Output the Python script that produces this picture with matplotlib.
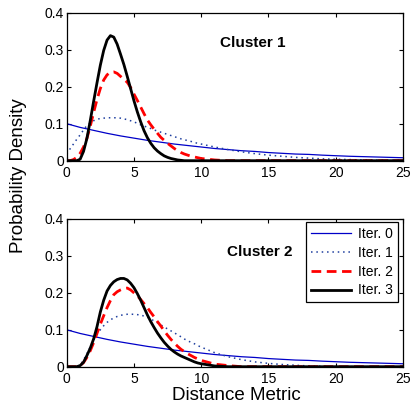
import matplotlib
matplotlib.use("Agg")
import matplotlib.pyplot as plt

plt.rcParams['font.family'] = ['Liberation Sans', 'DejaVu Sans']

# ---- data ----
# sample positions: every 0.25 from 0 to 10, then every 1 from 11 to 25
x_fine = [i / 4 for i in range(41)] + list(range(11, 26))

x_int = list(range(0, 26))
iter0 = [0.100, 0.090, 0.082, 0.074, 0.067, 0.061, 0.055, 0.050, 0.045, 0.041,
         0.037, 0.033, 0.030, 0.027, 0.025, 0.022, 0.020, 0.018, 0.017, 0.015,
         0.0135, 0.012, 0.011, 0.010, 0.009, 0.008]

# Cluster 1
c1_iter1 = [0.018, 0.032, 0.045, 0.058, 0.070, 0.083, 0.095, 0.102, 0.108, 0.112,
            0.114, 0.115, 0.116, 0.116, 0.116, 0.116, 0.115, 0.113, 0.111, 0.108,
            0.105, 0.101, 0.097, 0.094, 0.090, 0.087, 0.083, 0.080, 0.077, 0.074,
            0.071, 0.068, 0.065, 0.062, 0.059, 0.057, 0.054, 0.052, 0.049, 0.047,
            0.045,
            0.037, 0.030, 0.024, 0.019, 0.015, 0.012, 0.009, 0.007, 0.005, 0.004,
            0.003, 0.002, 0.0015, 0.001, 0.001]
c1_iter2 = [0.0, 0.0, 0.003, 0.009, 0.020, 0.037, 0.060, 0.093, 0.130, 0.165,
            0.195, 0.218, 0.232, 0.239, 0.240, 0.236, 0.228, 0.220, 0.212, 0.198,
            0.180, 0.163, 0.145, 0.127, 0.110, 0.097, 0.085, 0.074, 0.063, 0.055,
            0.047, 0.040, 0.033, 0.027, 0.022, 0.018, 0.015, 0.012, 0.010, 0.008,
            0.006,
            0.002, 0.0, 0.0, 0.0, 0.0, 0.0, 0.0, 0.0, 0.0, 0.0,
            0.0, 0.0, 0.0, 0.0, 0.0]
c1_iter3 = [0.0, 0.0, 0.0, 0.0, 0.004, 0.025, 0.060, 0.108, 0.160, 0.210,
            0.258, 0.298, 0.326, 0.338, 0.334, 0.315, 0.288, 0.260, 0.228, 0.195,
            0.162, 0.132, 0.105, 0.081, 0.062, 0.047, 0.035, 0.026, 0.019, 0.013,
            0.009, 0.006, 0.004, 0.002, 0.001, 0.0, 0.0, 0.0, 0.0, 0.0,
            0.0,
            0.0, 0.0, 0.0, 0.0, 0.0, 0.0, 0.0, 0.0, 0.0, 0.0,
            0.0, 0.0, 0.0, 0.0, 0.0]

# Cluster 2
c2_iter1 = [0.0, 0.0, 0.0, 0.001, 0.005, 0.018, 0.035, 0.054, 0.072, 0.087,
            0.100, 0.111, 0.120, 0.127, 0.132, 0.136, 0.139, 0.141, 0.142, 0.142,
            0.142, 0.141, 0.140, 0.137, 0.134, 0.129, 0.124, 0.119, 0.113, 0.108,
            0.102, 0.097, 0.092, 0.086, 0.081, 0.075, 0.070, 0.066, 0.062, 0.057,
            0.053,
            0.038, 0.027, 0.019, 0.013, 0.009, 0.006, 0.004, 0.002, 0.001, 0.0,
            0.0, 0.0, 0.0, 0.0, 0.0]
c2_iter2 = [0.0, 0.0, 0.0, 0.0, 0.003, 0.011, 0.025, 0.043, 0.065, 0.090,
            0.115, 0.138, 0.160, 0.179, 0.195, 0.203, 0.208, 0.212, 0.213, 0.208,
            0.200, 0.192, 0.182, 0.171, 0.160, 0.147, 0.135, 0.122, 0.110, 0.097,
            0.085, 0.074, 0.064, 0.055, 0.047, 0.041, 0.035, 0.030, 0.025, 0.021,
            0.017,
            0.007, 0.003, 0.0, 0.0, 0.0, 0.0, 0.0, 0.0, 0.0, 0.0,
            0.0, 0.0, 0.0, 0.0, 0.0]
c2_iter3 = [0.0, 0.0, 0.0, 0.0, 0.003, 0.012, 0.030, 0.050, 0.075, 0.108,
            0.148, 0.180, 0.205, 0.220, 0.230, 0.236, 0.239, 0.239, 0.235, 0.226,
            0.214, 0.198, 0.180, 0.160, 0.140, 0.122, 0.106, 0.091, 0.078, 0.066,
            0.056, 0.047, 0.040, 0.034, 0.029, 0.025, 0.021, 0.017, 0.013, 0.010,
            0.008,
            0.002, 0.0, 0.0, 0.0, 0.0, 0.0, 0.0, 0.0, 0.0, 0.0,
            0.0, 0.0, 0.0, 0.0, 0.0]

labels = ['Iter. 0', 'Iter. 1', 'Iter. 2', 'Iter. 3']
panel_titles = ['Cluster 1', 'Cluster 2']
x_ticks = [0, 5, 10, 15, 20, 25]
y_ticks = [0, 0.1, 0.2, 0.3, 0.4]
y_tick_labels = ['0', '0.1', '0.2', '0.3', '0.4']

# ---- figure ----
W, H = 412, 408
fig = plt.figure(figsize=(W / 100, H / 100), dpi=100)

def ax_rect(left_px, top_px, right_px, bottom_px):
    return [left_px / W, 1 - bottom_px / H, (right_px - left_px) / W, (bottom_px - top_px) / H]

ax1 = fig.add_axes(ax_rect(66.7, 12.7, 403, 160.7))
ax2 = fig.add_axes(ax_rect(66.7, 219, 403, 366.7))

panels = [
    (ax1, c1_iter1, c1_iter2, c1_iter3, (13.8, 0.318)),
    (ax2, c2_iter1, c2_iter2, c2_iter3, (14.35, 0.311)),
]

for (ax, it1, it2, it3, tpos), title in zip(panels, panel_titles):
    ax.plot(x_int, iter0, color='#0000c8', lw=0.9, label=labels[0])
    ax.plot(x_fine, it1, color='#1f3f9f', lw=1.1, linestyle=(0, (1, 2.5)), label=labels[1])
    ax.plot(x_fine, it2, color='#ff0000', lw=2.0, linestyle=(0, (3.5, 2)), label=labels[2])
    ax.plot(x_fine, it3, color='black', lw=2.0, label=labels[3])
    ax.set_xlim(0, 25)
    ax.set_ylim(0, 0.4)
    ax.set_xticks(x_ticks)
    ax.set_yticks(y_ticks)
    ax.set_yticklabels(y_tick_labels)
    ax.tick_params(direction='in', top=True, right=True, length=3, width=0.8,
                   labelsize=10, colors='black')
    ax.tick_params(axis='x', pad=4)
    ax.tick_params(axis='y', pad=2)
    for s in ax.spines.values():
        s.set_linewidth(0.9)
    ax.text(tpos[0], tpos[1], title, fontsize=11, fontweight='bold',
            ha='center', va='center')

leg = ax2.legend(loc='upper right', bbox_to_anchor=(0.985, 0.98), borderaxespad=0,
                 fontsize=10, frameon=True, fancybox=False, framealpha=1,
                 edgecolor='black', handlelength=2.9, handletextpad=0.5,
                 labelspacing=0.35, borderpad=0.35)
leg.get_frame().set_linewidth(0.9)

fig.text(18.5 / W, 1 - 176 / H, 'Probability Density', rotation=90,
         ha='center', va='center', fontsize=13.5)
fig.text(236.7 / W, 1 - 396 / H, 'Distance Metric', ha='center', va='center',
         fontsize=13.5)

fig.savefig('out.png', dpi=100)
